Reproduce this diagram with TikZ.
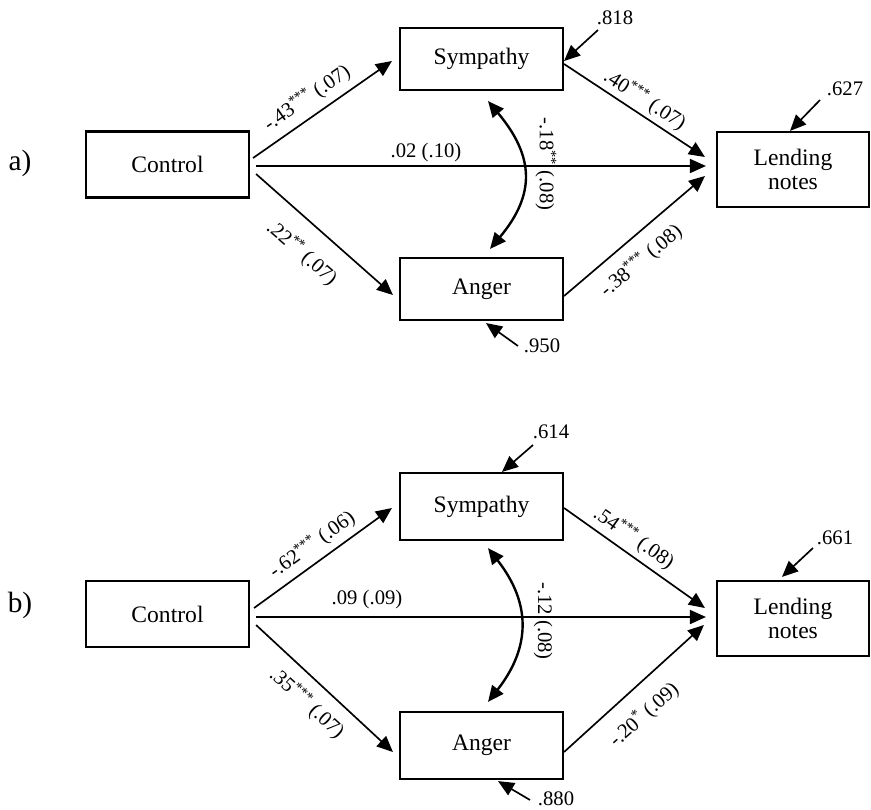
\documentclass[tikz,border=0pt]{standalone}
\usepackage{fontspec}
\setmainfont{Liberation Serif}
\usepackage{tikz}
\usetikzlibrary{arrows.meta}
\usetikzlibrary{calc}
\tikzset{
  varbox/.style={draw, line width=1.6pt, inner sep=0pt, minimum width=122.25pt,
    align=center, font=\fontsize{17.7}{18}\selectfont},
  path arrow/.style={line width=1.25pt, -{Triangle[length=12pt,width=10.5pt]}},
  cov arrow/.style={line width=1.8pt,
    {Triangle[length=12pt,width=10.5pt]}-{Triangle[length=12pt,width=10.5pt]}},
  coef/.style={inner sep=0.75pt, font=\fontsize{15.5}{16}\selectfont},
  panel/.style={inner sep=0.75pt, font=\fontsize{22}{24}\selectfont}
}

\begin{document}
\begin{tikzpicture}[x=0.75pt,y=0.75pt,yscale=-1,xscale=1]
\useasboundingbox (0,0) rectangle (871,810);

%%%%%%%% panel a
% Boxes
\node [panel] (labA) at (20,163) {a)};
\node [varbox, minimum height=49.5pt] (ctrlA) at (167.5,164.5) {Control};
\node [varbox, minimum height=46.5pt] (symA) at (481.5,59) {Sympathy};
\node [varbox, minimum height=46.5pt] (angerA) at (481.5,289) {Anger};
\node [varbox, minimum height=56.25pt, minimum width=114pt] (lendA) at (793,169.5) {Lending\\notes};

% Paths
\draw [path arrow] ($(ctrlA.east)+(3,-6.5)$) -- ($(symA.west)+(-7,2)$);
\draw [path arrow] ($(ctrlA.east)+(6,1.5)$) -- ($(lendA.west)+(-10,-3.5)$);
\draw [path arrow] ($(ctrlA.east)+(6,9.5)$) -- ($(angerA.west)+(-6,6)$);
\draw [path arrow] ($(symA.east)+(0,5)$) -- ($(lendA.west)+(-11,-12.5)$);
\draw [path arrow] ($(angerA.east)+(0,7)$) -- ($(lendA.west)+(-11,6.5)$);
% Covariance
\draw [cov arrow] ($(symA.south)+(6.5,10)$) .. controls +(46,55) and +(46,-55) .. ($(angerA.north)+(8.5,-8)$);

% Residuals
\coordinate (resSymA) at (598,30);
\coordinate (resLendA) at (820,100);
\coordinate (resAngerA) at (518,346);
\draw [path arrow] (resSymA) -- ($(symA.east)+(0,2)$);
\draw [path arrow] (resLendA) -- ($(lendA.north)+(-3,0)$);
\draw [path arrow] (resAngerA) -- ($(angerA.south)+(4.5,2)$);

% Text Node
\node [coef] (r818) at (615,18) {.818};
\node [coef] (r627) at (845,89) {.627};
\node [coef] (r950) at (542,346) {.950};
\node [coef, rotate=34.5] (cSymA) at (307,98) {-.43\textsuperscript{***} (.07)};
\node [coef] (cLendA) at (426,153) {.02 (.10)};
\node [coef, rotate=-41] (cAngerA) at (302,253) {.22\textsuperscript{**} (.07)};
\node [coef, rotate=-33] (bSymA) at (645,100) {.40\textsuperscript{***} (.07)};
\node [coef, rotate=40] (bAngerA) at (641,261) {-.38\textsuperscript{***} (.08)};
\node [coef, rotate=-90] (covA) at (546,164) {-.18\textsuperscript{**} (.08)};

%%%%%%%% panel b
% Boxes
\node [panel] (labB) at (20,605) {b)};
\node [varbox, minimum height=49.5pt] (ctrlB) at (167.5,614) {Control};
\node [varbox, minimum height=50.25pt] (symB) at (481.5,506.5) {Sympathy};
\node [varbox, minimum height=50.25pt] (angerB) at (481.5,745.5) {Anger};
\node [varbox, minimum height=56.25pt, minimum width=114pt] (lendB) at (793,618.5) {Lending\\notes};

% Paths
\draw [path arrow] ($(ctrlB.east)+(4,-6)$) -- ($(symB.west)+(-7,1.5)$);
\draw [path arrow] ($(ctrlB.east)+(6,3)$) -- ($(lendB.west)+(-10,-1.5)$);
\draw [path arrow] ($(ctrlB.east)+(6,11)$) -- ($(angerB.west)+(-6,6.5)$);
\draw [path arrow] ($(symB.east)+(0,1.5)$) -- ($(lendB.west)+(-11,-10.5)$);
\draw [path arrow] ($(angerB.east)+(0,6.5)$) -- ($(lendB.west)+(-12,6.5)$);
% Covariance
\draw [cov arrow] ($(symB.south)+(6.5,7)$) .. controls +(43,55) and +(43,-55) .. ($(angerB.north)+(6.5,-9)$);

% Residuals
\coordinate (resSymB) at (533,445);
\coordinate (resLendB) at (813,548);
\coordinate (resAngerB) at (530,800);
\draw [path arrow] (resSymB) -- ($(symB.north)+(20.5,0)$);
\draw [path arrow] (resLendB) -- ($(lendB.north)+(-11,-3)$);
\draw [path arrow] (resAngerB) -- ($(angerB.south)+(16.5,1)$);

% Text Node
\node [coef] (r614) at (551,432) {.614};
\node [coef] (r661) at (835,538) {.661};
\node [coef] (r880) at (556,799) {.880};
\node [coef, rotate=35.5] (cSymB) at (312,545) {-.62\textsuperscript{***} (.06)};
\node [coef] (cLendB) at (367,600) {.09 (.09)};
\node [coef, rotate=-42.4] (cAngerB) at (307,703) {.35\textsuperscript{***} (.07)};
\node [coef, rotate=-35] (bSymB) at (634,538) {.54\textsuperscript{***} (.08)};
\node [coef, rotate=41.8] (bAngerB) at (644,715) {-.20\textsuperscript{*} (.09)};
\node [coef, rotate=-90] (covB) at (543,621) {-.12 (.08)};

\end{tikzpicture}
\end{document}
